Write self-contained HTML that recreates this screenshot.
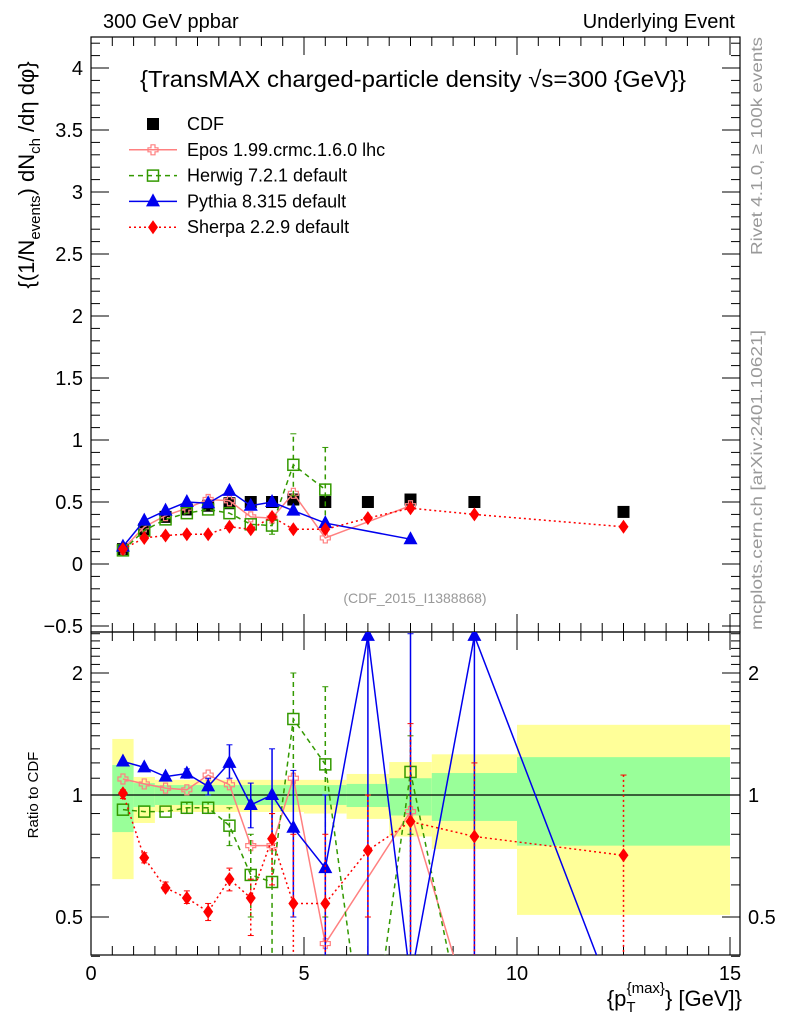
<!DOCTYPE html>
<html><head><meta charset="utf-8"><style>
html,body{margin:0;padding:0;background:#fff;width:786px;height:1024px;overflow:hidden;}
svg{display:block;font-family:"Liberation Sans",sans-serif;}
</style></head><body>
<svg id="chart" width="786" height="1024" viewBox="0 0 786 1024" xmlns="http://www.w3.org/2000/svg">
<defs>
<clipPath id="cm"><rect x="91" y="37" width="649" height="595"/></clipPath>
<clipPath id="cr"><rect x="91" y="632" width="649" height="323"/></clipPath>
</defs>
<g id="bands" clip-path="url(#cr)"></g>
<g id="grid"></g>
<g id="mainmarks" clip-path="url(#cm)"></g>
<g id="ratiomarks" clip-path="url(#cr)"></g>
<text x="103" y="28" font-size="20">300 GeV ppbar</text>
<text x="735" y="28" font-size="20" text-anchor="end">Underlying Event</text>
<text x="140" y="87" font-size="23" textLength="546" lengthAdjust="spacingAndGlyphs">{TransMAX charged-particle density √s=300 {GeV}}</text>
<text x="415" y="603" font-size="14" fill="#999" text-anchor="middle">(CDF_2015_I1388868)</text>
<text transform="translate(762,255) rotate(-90)" font-size="16" fill="#999" textLength="218" lengthAdjust="spacingAndGlyphs">Rivet 4.1.0, ≥ 100k events</text>
<text transform="translate(762,630) rotate(-90)" font-size="16" fill="#999" textLength="300" lengthAdjust="spacingAndGlyphs">mcplots.cern.ch [arXiv:2401.10621]</text>
<text transform="translate(34,175) rotate(-90)" font-size="22" text-anchor="middle">{(1/N<tspan font-size="15" dy="6">events</tspan><tspan dy="-6">) dN</tspan><tspan font-size="15" dy="6">ch</tspan><tspan dy="-6"> /dη  dφ}</tspan></text>
<text transform="translate(38,795) rotate(-90)" font-size="15" text-anchor="middle">Ratio to CDF</text>
<text x="742" y="1006" font-size="22" text-anchor="end">{p<tspan font-size="15" dy="6">T</tspan><tspan font-size="15" dy="-19" dx="-9">{max}</tspan><tspan dy="13">} [GeV]}</tspan></text>
<g id="legend"></g>
</svg>
<script>
const xs=[0.75,1.25,1.75,2.25,2.75,3.25,3.75,4.25,4.75,5.5,6.5,7.5,9,12.5];
const cdf=[0.12,0.28,0.38,0.44,0.47,0.49,0.50,0.50,0.52,0.50,0.50,0.52,0.50,0.42];
const eposMain=[0.12,0.30,0.39,0.45,0.52,0.51,0.38,0.37,0.57,0.21,null,0.47,null,null];
const herwigMain=[0.11,0.27,0.36,0.41,0.44,0.41,0.32,0.31,0.80,0.60,null,null,null,null];
const herwigMainLo=[null,null,null,null,null,null,null,0.24,0.55,0.32,null,null,null,null];
const herwigMainHi=[null,null,null,null,null,null,null,0.38,1.05,0.94,null,null,null,null];
const pythiaMain=[0.14,0.35,0.43,0.50,0.49,0.59,0.47,0.50,0.43,0.33,null,0.20,null,null];
const sherpaMain=[0.12,0.21,0.23,0.24,0.24,0.30,0.28,0.38,0.28,0.28,0.37,0.45,0.40,0.30];
const eposRatio=[1.095,1.065,1.04,1.03,1.12,1.06,0.75,0.75,1.10,0.43,null,0.91,0.27,null];
const herwigRatio=[0.92,0.91,0.91,0.93,0.93,0.84,0.635,0.61,1.54,1.19,0.2,1.14,0.2,null];
const herwigErrLo=[null,null,null,0.9,0.9,0.75,0.5,0.3,1.0,0.5,null,0.8,null,null];
const herwigErrHi=[null,null,null,0.96,0.96,0.93,0.8,0.9,2.0,1.85,null,1.4,null,null];
const pythiaRatio=[1.21,1.17,1.11,1.13,1.05,1.20,0.945,1.0,0.83,0.66,2.47,0.35,2.47,0.27];
const sherpaRatio=[1.01,0.70,0.59,0.557,0.515,0.62,0.557,0.78,0.54,0.54,0.73,0.86,0.79,0.71];
const sherpaErrLo=[0.98,0.68,0.58,0.54,0.49,0.58,0.45,0.60,0.30,0.30,0.5,0.3,0.4,0.3];
const sherpaErrHi=[1.03,0.72,0.61,0.58,0.54,0.66,0.62,0.90,0.80,0.80,1.0,1.5,1.2,1.12];
const pythiaErrLo=[1.2,1.16,1.1,1.1,1.0,1.1,0.83,0.78,0.5,0.3,0.3,0.3,0.3,null];
const pythiaErrHi=[1.22,1.18,1.12,1.16,1.1,1.33,1.07,1.3,1.15,1.0,2.5,2.5,2.5,null];
const binEdges=[0.5,1,1.5,5,6,7,8,10,15];
const yelLo=[0.62,0.853,0.908,0.90,0.873,0.79,0.736,0.506];
const yelHi=[1.375,1.108,1.09,1.09,1.127,1.206,1.26,1.49];
const grnLo=[0.81,0.934,0.945,0.945,0.934,0.89,0.863,0.75];
const grnHi=[1.186,1.07,1.058,1.058,1.065,1.10,1.133,1.24];
const xTicks=[0,5,10,15];
const mainYTicks=[-0.5,0,0.5,1,1.5,2,2.5,3,3.5,4];
const ratioYTicks=[0.5,1,2];

const NS='http://www.w3.org/2000/svg';
const X=v=>91+v*42.6;
const YM=v=>564-124*v;
const YR=v=>795-122*Math.log2(v);
function mk(tag,attrs,parent){const e=document.createElementNS(NS,tag);for(const k in attrs)e.setAttribute(k,attrs[k]);parent.appendChild(e);return e;}
const grid=document.getElementById('grid'),bands=document.getElementById('bands');
const mm=document.getElementById('mainmarks'),rm=document.getElementById('ratiomarks');

for(let i=0;i<yelLo.length;i++){
  let r=mk('rect',{x:X(binEdges[i]),y:YR(yelHi[i]),width:X(binEdges[i+1])-X(binEdges[i]),height:YR(yelLo[i])-YR(yelHi[i]),fill:'#ffff99'},bands);
  
  
  let g=mk('rect',{x:X(binEdges[i]),y:YR(grnHi[i]),width:X(binEdges[i+1])-X(binEdges[i]),height:YR(grnLo[i])-YR(grnHi[i]),fill:'#99ff99'},bands);
  
  
}
mk('rect',{x:91,y:37,width:649,height:595,fill:'none',stroke:'#000','stroke-width':1.2},grid);
mk('rect',{x:91,y:632,width:649,height:323,fill:'none',stroke:'#000','stroke-width':1.2},grid);
mk('line',{x1:91,x2:740,y1:YR(1),y2:YR(1),stroke:'#000','stroke-width':1.2},grid);
for(let v=0;v<=15.01;v+=0.5){
  const maj=Math.abs(v%5)<0.01,len=maj?18:9;
  mk('line',{x1:X(v),x2:X(v),y1:955,y2:955-len,stroke:'#000'},grid);
  mk('line',{x1:X(v),x2:X(v),y1:632,y2:632-len,stroke:'#000'},grid);
  mk('line',{x1:X(v),x2:X(v),y1:632,y2:632+len,stroke:'#000'},grid);
  mk('line',{x1:X(v),x2:X(v),y1:37,y2:37+len,stroke:'#000'},grid);
}
xTicks.forEach(v=>{const t=mk('text',{x:X(v),y:980,'font-size':20,'text-anchor':'middle'},grid);t.textContent=v;

});
for(let k=-5;k<=42;k++){const v=k/10,maj=k%5===0,len=maj?18:9;const y=YM(v);if(y<37||y>632)continue;
 mk('line',{x1:91,x2:91+len,y1:y,y2:y,stroke:'#000'},grid);mk('line',{x1:740,x2:740-len,y1:y,y2:y,stroke:'#000'},grid);}
mainYTicks.forEach(v=>{const t=mk('text',{x:83,y:YM(v)+7,'font-size':20,'text-anchor':'end'},grid);t.textContent=(v===-0.5?'−0.5':v);

});
const rmin=[0.4,0.6,0.7,0.8,0.9,1.1,1.2,1.3,1.4,1.5,1.6,1.7,1.8,1.9,2.1,2.2,2.3,2.4,2.5];
rmin.forEach(v=>{const y=YR(v);if(y<632)return;mk('line',{x1:91,x2:100,y1:y,y2:y,stroke:'#000'},grid);mk('line',{x1:740,x2:731,y1:y,y2:y,stroke:'#000'},grid);});
ratioYTicks.forEach(v=>{const y=YR(v);mk('line',{x1:91,x2:109,y1:y,y2:y,stroke:'#000'},grid);mk('line',{x1:740,x2:722,y1:y,y2:y,stroke:'#000'},grid);
 const t=mk('text',{x:83,y:y+7,'font-size':20,'text-anchor':'end'},grid);t.textContent=v;
 
 
 const t2=mk('text',{x:748,y:y+7,'font-size':20},grid);t2.textContent=v;
 
 });

function marker(type,x,y,col,g){
  if(type==='sq') return mk('rect',{x:x-6,y:y-6,width:12,height:12,fill:'#000'},g);
  if(type==='osq') return mk('rect',{x:x-5.5,y:y-5.5,width:11,height:11,fill:'none',stroke:col,'stroke-width':1.5},g);
  if(type==='tri') return mk('path',{d:`M${x},${y-8}L${x+7},${y+5}L${x-7},${y+5}Z`,fill:col},g);
  if(type==='dia') return mk('path',{d:`M${x},${y-7}L${x+5},${y}L${x},${y+7}L${x-5},${y}Z`,fill:col},g);
  if(type==='cross') return mk('path',{d:`M${x-2},${y-5}h4v3h3v4h-3v3h-4v-3h-3v-4h3Z`,fill:'none',stroke:col,'stroke-width':1.2},g);
}
function series(vals,Y,col,dash,type,g,name,lo,hi){
  const sg=mk('g',{},g);
  
  
  let pts=[];xs.forEach((x,i)=>{if(vals[i]!=null)pts.push([X(x),Y(vals[i])]);});
  if(col!=='#000')mk('polyline',{points:pts.map(p=>p.join(',')).join(' '),fill:'none',stroke:col,'stroke-width':1.5,'stroke-dasharray':dash},sg);
  if(lo)xs.forEach((x,i)=>{if(lo[i]!=null&&vals[i]!=null){mk('line',{x1:X(x),x2:X(x),y1:Y(lo[i]),y2:Y(hi[i]),stroke:col,'stroke-width':1.5,'stroke-dasharray':dash},sg);
    mk('line',{x1:X(x)-3,x2:X(x)+3,y1:Y(lo[i]),y2:Y(lo[i]),stroke:col},sg);mk('line',{x1:X(x)-3,x2:X(x)+3,y1:Y(hi[i]),y2:Y(hi[i]),stroke:col},sg);}});
  pts.forEach(p=>marker(type,p[0],p[1],col,sg));
}
series(cdf,YM,'#000','','sq',mm,'cdf-data');
series(eposMain,YM,'#ff8080','','cross',mm,'epos-series');
series(herwigMain,YM,'#339900','5,4','osq',mm,'herwig-series',herwigMainLo,herwigMainHi);
series(pythiaMain,YM,'#0000ee','','tri',mm,'pythia-series');
series(sherpaMain,YM,'#ff0000','2,3','dia',mm,'sherpa-series');
series(eposRatio,YR,'#ff8080','','cross',rm,'epos-ratio');
series(herwigRatio,YR,'#339900','5,4','osq',rm,'herwig-ratio',herwigErrLo,herwigErrHi);
series(pythiaRatio,YR,'#0000ee','','tri',rm,'pythia-ratio',pythiaErrLo,pythiaErrHi);
series(sherpaRatio,YR,'#ff0000','2,3','dia',rm,'sherpa-ratio',sherpaErrLo,sherpaErrHi);

const leg=document.getElementById('legend');
const names=['CDF','Epos 1.99.crmc.1.6.0 lhc','Herwig 7.2.1 default','Pythia 8.315 default','Sherpa 2.2.9 default'];
const cols=['#000','#ff8080','#339900','#0000ee','#ff0000'],dashes=['','','5,4','','2,3'],types=['sq','cross','osq','tri','dia'];
names.forEach((n,i)=>{const y=124+i*25.8;const g=mk('g',{},leg);
 
 
 if(i>0)mk('line',{x1:129,x2:177,y1:y,y2:y,stroke:cols[i],'stroke-width':1.5,'stroke-dasharray':dashes[i]},g);
 marker(types[i],153,y,cols[i],g);
 const t=mk('text',{x:187,y:y+6,'font-size':18},g);t.textContent=n;});
</script>
</body></html>
